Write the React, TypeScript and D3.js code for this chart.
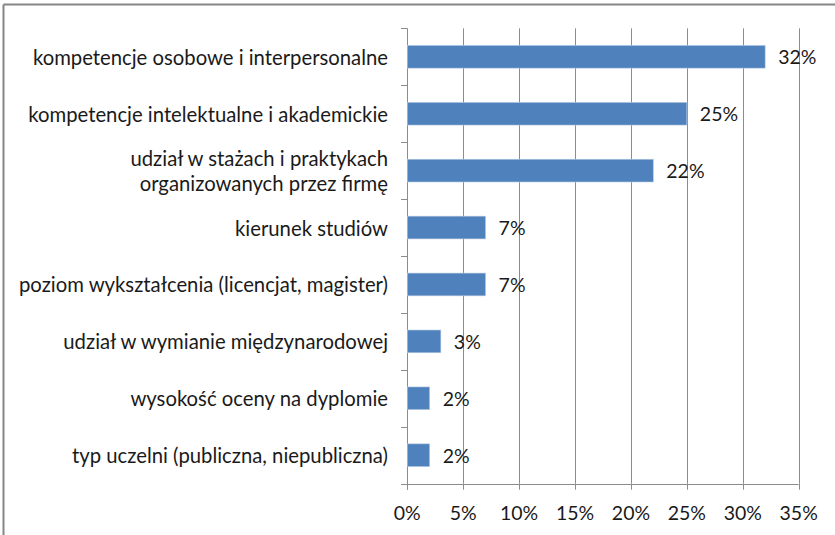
import React from "react";
import * as d3 from "d3";

const categories: string[][] = [
  ["kompetencje osobowe i interpersonalne"],
  ["kompetencje intelektualne i akademickie"],
  ["udział w stażach i praktykach", "organizowanych przez firmę"],
  ["kierunek studiów"],
  ["poziom wykształcenia (licencjat, magister)"],
  ["udział w wymianie międzynarodowej"],
  ["wysokość oceny na dyplomie"],
  ["typ uczelni (publiczna, niepubliczna)"],
];
const values: number[] = [0.32, 0.25, 0.22, 0.07, 0.07, 0.03, 0.02, 0.02];
const xTicks: number[] = [0, 0.05, 0.1, 0.15, 0.2, 0.25, 0.3, 0.35];

const W = 835;
const H = 535;
const left = 407.3;
const right = 798.7;
const top = 28.3;
const bottom = 483.7;
const FONT = "Lato, sans-serif";
const FS = 20.3;
const FS2 = 19.5;
const GRID = "#8c8c8c";
const TXT = "#1a1a1a";

export default function App() {
  const x = d3.scaleLinear().domain([0, 0.35]).range([left, right]);
  const idx = categories.map((_, i) => String(i));
  const y = d3.scaleBand().domain(idx).range([top, bottom]).paddingInner(0.6).paddingOuter(0.3);
  const yb = d3.scaleBand().domain(idx).range([top, bottom]);
  const fmt = d3.format(".0%");
  return (
    <svg width={W} height={H} style={{ position: "absolute", left: 0, top: 0, background: "#fff" }} fontFamily={FONT}>
      <rect x={0} y={0} width={W} height={H} fill="#fff" />
      <line x1={3.5} x2={W} y1={4.5} y2={4.5} stroke="#868686" strokeWidth={2} />
      <line x1={3.5} x2={3.5} y1={4.5} y2={H} stroke="#868686" strokeWidth={2} />
      {xTicks.slice(1).map((t) => (
        <line key={"g" + t} x1={Math.round(x(t)) + 0.5} x2={Math.round(x(t)) + 0.5} y1={top} y2={bottom} stroke={GRID} strokeWidth={1} />
      ))}
      {/* y axis */}
      <line x1={Math.round(left) + 0.5} x2={Math.round(left) + 0.5} y1={top} y2={bottom + 6} stroke={GRID} />
      {idx.map((d, i) => (
        <line key={"yt" + i} x1={401} x2={left} y1={Math.round(yb(d)!) + 0.5} y2={Math.round(yb(d)!) + 0.5} stroke={GRID} />
      ))}
      {/* x axis */}
      <line x1={401} x2={right} y1={Math.round(bottom) + 0.5} y2={Math.round(bottom) + 0.5} stroke={GRID} />
      {xTicks.map((t) => (
        <line key={"xt" + t} x1={Math.round(x(t)) + 0.5} x2={Math.round(x(t)) + 0.5} y1={bottom} y2={bottom + 6} stroke={GRID} />
      ))}
      {xTicks.map((t) => (
        <text key={"xl" + t} x={x(t)} y={512} textAnchor="middle" dominantBaseline="central" fontSize={FS2} fill={TXT}>
          {fmt(t)}
        </text>
      ))}
      {values.map((v, i) => (
        <g key={"b" + i}>
          <rect x={x(0)} y={y(String(i))!} width={x(v) - x(0)} height={y.bandwidth()} fill="#4F81BD" stroke="#B9CDE5" strokeWidth={0.6} />
          <text x={x(v) + 13} y={y(String(i))! + y.bandwidth() / 2} dominantBaseline="central" fontSize={FS2} fill={TXT}>
            {fmt(v)}
          </text>
        </g>
      ))}
      {categories.map((lines, i) => {
        const cy = yb(String(i))! + yb.bandwidth() / 2;
        return lines.map((ln, j) => (
          <text key={"c" + i + "-" + j} x={388} y={cy + (j - (lines.length - 1) / 2) * 25} textAnchor="end" dominantBaseline="central" fontSize={FS} fill={TXT}>
            {ln}
          </text>
        ));
      })}
    </svg>
  );
}
